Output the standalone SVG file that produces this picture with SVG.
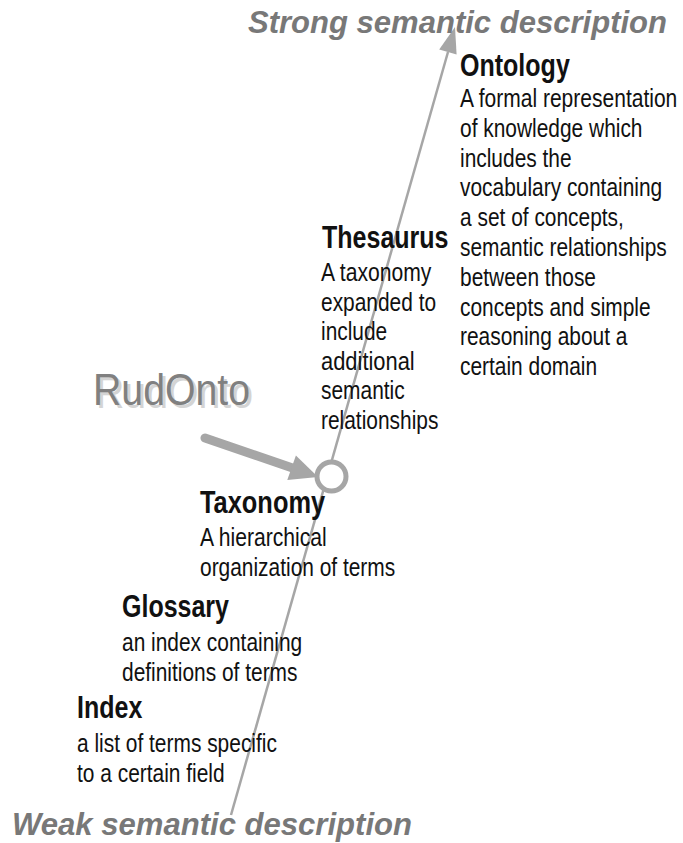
<svg xmlns="http://www.w3.org/2000/svg" width="683" height="843" viewBox="0 0 683 843">
<style>
.title{font-family:"Liberation Sans",Arial,sans-serif;font-weight:bold;font-style:italic;font-size:31px;fill:#787878}
.head{font-family:"Liberation Sans Narrow","Liberation Sans",Arial,sans-serif;font-weight:bold;font-size:30.5px;fill:#111}
.body{font-family:"Liberation Sans Narrow","Liberation Sans",Arial,sans-serif;font-size:26.5px;fill:#111}
.rud{font-family:"Liberation Sans",Arial,sans-serif;font-size:44px}
</style>
<rect width="683" height="843" fill="#fff"/>
<g id="connectors">
<line x1="231" y1="815" x2="448" y2="52" stroke="#a6a6a6" stroke-width="2.5"/>
<polygon points="455,27 456.6,54.5 439.2,49.5" fill="#a6a6a6"/>
<line x1="205" y1="438" x2="294" y2="468.5" stroke="#a6a6a6" stroke-width="9" stroke-linecap="round"/>
<polygon points="318,477 287.3,480.1 295.9,455.5" fill="#a6a6a6"/>
</g>
<g id="rudonto-point"><circle cx="331.5" cy="476.5" r="14.5" fill="#fff" stroke="#a6a6a6" stroke-width="5"/></g>
<g id="strong-label"><text class="title" x="248" y="33" textLength="419" lengthAdjust="spacingAndGlyphs">Strong semantic description</text></g>
<g id="weak-label"><text class="title" x="12" y="835" textLength="400" lengthAdjust="spacingAndGlyphs">Weak semantic description</text></g>
<g id="rudonto">
<text class="rud" x="96" y="408" fill="#d4d4d4" textLength="157" lengthAdjust="spacingAndGlyphs">RudOnto</text>
<text class="rud" x="93" y="405" fill="#808080" textLength="157" lengthAdjust="spacingAndGlyphs">RudOnto</text>
</g>
<g id="ontology">
<text class="head" x="460" y="76" textLength="109.8" lengthAdjust="spacingAndGlyphs">Ontology</text>
<text class="body" x="460" y="107" textLength="217.3" lengthAdjust="spacingAndGlyphs">A formal representation</text>
<text class="body" x="460" y="136.8" textLength="182.5" lengthAdjust="spacingAndGlyphs">of knowledge which</text>
<text class="body" x="460" y="166.6" textLength="111.6" lengthAdjust="spacingAndGlyphs">includes the</text>
<text class="body" x="460" y="196.4" textLength="202.2" lengthAdjust="spacingAndGlyphs">vocabulary containing</text>
<text class="body" x="460" y="226.2" textLength="163.9" lengthAdjust="spacingAndGlyphs">a set of concepts,</text>
<text class="body" x="460" y="256" textLength="206.8" lengthAdjust="spacingAndGlyphs">semantic relationships</text>
<text class="body" x="460" y="285.8" textLength="136" lengthAdjust="spacingAndGlyphs">between those</text>
<text class="body" x="460" y="315.6" textLength="190.6" lengthAdjust="spacingAndGlyphs">concepts and simple</text>
<text class="body" x="460" y="345.4" textLength="167.4" lengthAdjust="spacingAndGlyphs">reasoning about a</text>
<text class="body" x="460" y="375.2" textLength="137.1" lengthAdjust="spacingAndGlyphs">certain domain</text>
</g>
<g id="thesaurus">
<text class="head" x="322" y="248" textLength="126.5" lengthAdjust="spacingAndGlyphs">Thesaurus</text>
<text class="body" x="321" y="281" textLength="110.4" lengthAdjust="spacingAndGlyphs">A taxonomy</text>
<text class="body" x="321" y="310.5" textLength="115.1" lengthAdjust="spacingAndGlyphs">expanded to</text>
<text class="body" x="321" y="340" textLength="66.2" lengthAdjust="spacingAndGlyphs">include</text>
<text class="body" x="321" y="369.5" textLength="93.7" lengthAdjust="spacingAndGlyphs">additional</text>
<text class="body" x="321" y="399" textLength="83.7" lengthAdjust="spacingAndGlyphs">semantic</text>
<text class="body" x="321" y="428.5" textLength="117.4" lengthAdjust="spacingAndGlyphs">relationships</text>
</g>
<g id="taxonomy">
<text class="head" x="200" y="513" textLength="125.1" lengthAdjust="spacingAndGlyphs">Taxonomy</text>
<text class="body" x="200" y="546" textLength="126.7" lengthAdjust="spacingAndGlyphs">A hierarchical</text>
<text class="body" x="200" y="575.5" textLength="195.2" lengthAdjust="spacingAndGlyphs">organization of terms</text>
</g>
<g id="glossary">
<text class="head" x="122" y="617" textLength="107" lengthAdjust="spacingAndGlyphs">Glossary</text>
<text class="body" x="122" y="651" textLength="180.2" lengthAdjust="spacingAndGlyphs">an index containing</text>
<text class="body" x="122" y="680.5" textLength="175.5" lengthAdjust="spacingAndGlyphs">definitions of terms</text>
</g>
<g id="index">
<text class="head" x="77" y="718" textLength="65.3" lengthAdjust="spacingAndGlyphs">Index</text>
<text class="body" x="77" y="752" textLength="199.9" lengthAdjust="spacingAndGlyphs">a list of terms specific</text>
<text class="body" x="77" y="781.5" textLength="147.6" lengthAdjust="spacingAndGlyphs">to a certain field</text>
</g>
</svg>
